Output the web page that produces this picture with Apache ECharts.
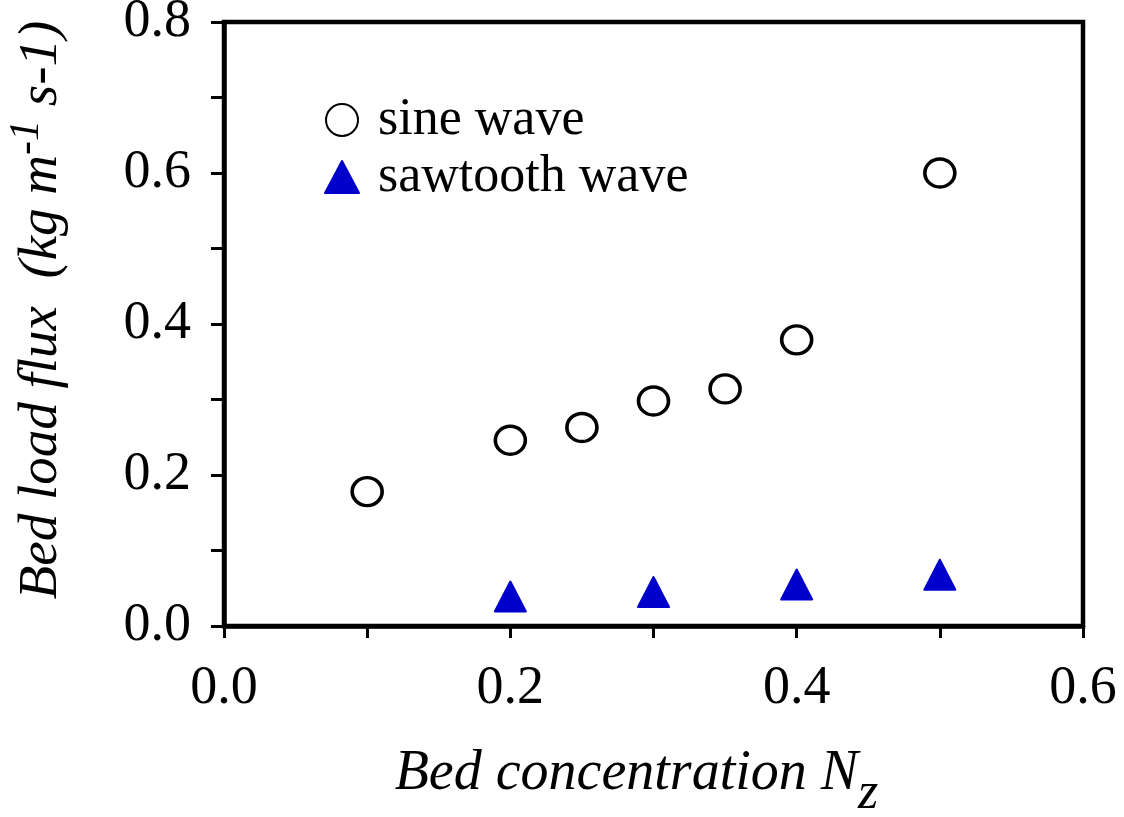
<!DOCTYPE html>
<html>
<head>
<meta charset="utf-8">
<title>Bed load flux vs bed concentration</title>
<script src="https://cdn.jsdelivr.net/npm/echarts@6/dist/echarts.min.js"></script>
<style>
  html, body { margin: 0; padding: 0; background: #ffffff; }
  #chart { width: 1124px; height: 817px; }
</style>
</head>
<body>
<div id="chart"></div>
<script>
// Bed concentration N_z (x) for each wave shape
const sineX = [0.10, 0.20, 0.25, 0.30, 0.35, 0.40, 0.50];
const sineFlux = [0.178, 0.246, 0.263, 0.298, 0.314, 0.379, 0.600];

const sawX = [0.20, 0.30, 0.40, 0.50];
const sawFlux = [0.039, 0.045, 0.055, 0.068];

const seriesNames = ['sine wave', 'sawtooth wave'];
const xLabelTicks = [0.0, 0.2, 0.4, 0.6];
const yLabelTicks = [0.0, 0.2, 0.4, 0.6, 0.8];

const FONT = "'Liberation Serif', 'Times New Roman', serif";
const INK = '#000000';
const BLUE = '#0000cc';

function pair(xs, ys) { return xs.map((x, i) => [x, ys[i]]); }

function labelIf(list) {
  return function (v) {
    const hit = list.some(t => Math.abs(t - v) < 1e-9);
    return hit ? v.toFixed(1) : '';
  };
}

const chart = echarts.init(document.getElementById('chart'), null, { renderer: 'canvas' });

chart.setOption({
  animation: false,
  backgroundColor: '#ffffff',
  grid: {
    left: 224, right: 41, top: 22, bottom: 191,
    outerBoundsMode: 'none',
    containLabel: false,
    show: true, borderColor: INK, borderWidth: 4.5, backgroundColor: 'transparent'
  },
  legend: {
    orient: 'vertical',
    left: 319, top: 89,
    itemWidth: 34, itemHeight: 32, itemGap: 5,
    data: seriesNames,
    textStyle: { fontFamily: FONT, fontSize: 52, color: INK, padding: [0, 0, 0, 14] }
  },
  xAxis: {
    type: 'value', min: 0, max: 0.6, interval: 0.1,
    name: 'Bed concentration N{s|z}',
    nameLocation: 'middle', nameGap: 102,
    nameTextStyle: {
      fontFamily: FONT, fontSize: 56, fontStyle: 'italic', color: INK,
      padding: [0, 34, 0, 0],
      rich: {
        s: { fontFamily: FONT, fontSize: 52, fontStyle: 'italic', color: INK, padding: [40, 0, 0, 0] }
      }
    },
    axisLine: { show: true, onZero: false, lineStyle: { color: INK, width: 4.5 } },
    axisTick: { show: true, inside: false, length: 12, lineStyle: { color: INK, width: 3 } },
    axisLabel: { margin: 36, fontFamily: FONT, fontSize: 54, color: INK, formatter: labelIf(xLabelTicks) },
    splitLine: { show: false }
  },
  yAxis: {
    type: 'value', min: 0, max: 0.8, interval: 0.1,
    name: 'Bed load flux  (kg m{p|-1} s-1)',
    nameLocation: 'middle', nameGap: 146, nameRotate: 90,
    nameTextStyle: {
      fontFamily: FONT, fontSize: 55, fontStyle: 'italic', color: INK,
      padding: [0, 0, 0, 28],
      rich: {
        p: { fontFamily: FONT, fontSize: 42, fontStyle: 'italic', color: INK, padding: [0, 0, 30, 0] }
      }
    },
    axisLine: { show: true, onZero: false, lineStyle: { color: INK, width: 4.5 } },
    axisTick: { show: true, inside: false, length: 13, lineStyle: { color: INK, width: 3 } },
    axisLabel: { margin: 33, fontFamily: FONT, fontSize: 54, color: INK, formatter: labelIf(yLabelTicks) },
    splitLine: { show: false }
  },
  series: [
    {
      name: seriesNames[0],
      type: 'scatter',
      symbol: 'circle',
      symbolSize: [30, 28],
      itemStyle: { color: '#ffffff', borderColor: INK, borderWidth: 3.5, opacity: 1 },
      data: pair(sineX, sineFlux),
      z: 3
    },
    {
      name: seriesNames[1],
      type: 'scatter',
      symbol: 'triangle',
      symbolSize: [31, 30],
      itemStyle: { color: BLUE, borderColor: BLUE, borderWidth: 2, borderJoin: 'round', opacity: 1 },
      data: pair(sawX, sawFlux),
      z: 3
    }
  ]
});
</script>
</body>
</html>
